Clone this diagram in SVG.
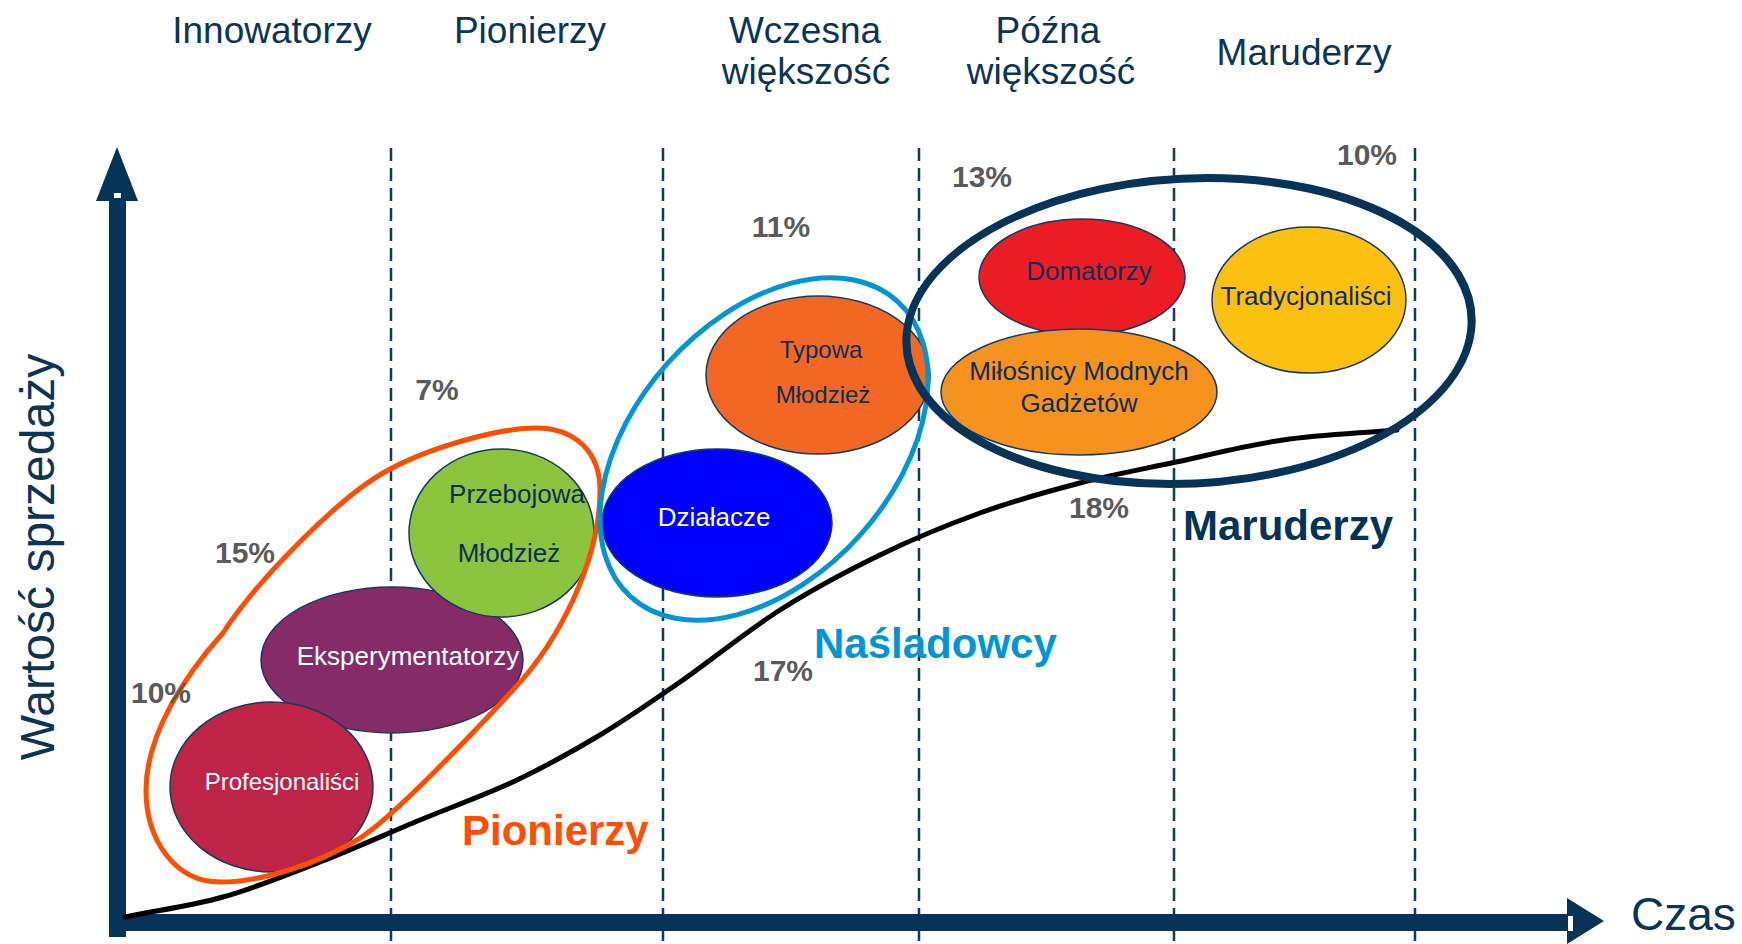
<svg xmlns="http://www.w3.org/2000/svg" width="1742" height="944" viewBox="0 0 1742 944">
<style>
text{font-family:"Liberation Sans",Arial,sans-serif}
.hdr{font-size:37px;fill:#0B3457;text-anchor:middle}
.pct{font-size:30px;font-weight:bold;fill:#5A5A5A;text-anchor:middle}
.big{font-size:42px;font-weight:bold}
.lbl{font-size:26px;text-anchor:middle}
.wht{fill:#FFFFFF}
.nav{fill:#0D2F55}
.node{stroke:#163A5F;stroke-width:1.5}
.dash{stroke:#123A5E;stroke-width:2.5;stroke-dasharray:13 7;fill:none}
.axis{fill:#063459}
.grp{fill:none}
</style>
<g id="headers">
<text class="hdr" x="272" y="43">Innowatorzy</text>
<text class="hdr" x="530" y="43">Pionierzy</text>
<text class="hdr" x="805" y="43">Wczesna</text>
<text class="hdr" x="806" y="84">większość</text>
<text class="hdr" x="1048" y="43">Późna</text>
<text class="hdr" x="1051" y="84">większość</text>
<text class="hdr" x="1304" y="65">Maruderzy</text>
</g>
<g id="grid">
<line class="dash" x1="391" y1="148" x2="391" y2="944"/>
<line class="dash" x1="663" y1="148" x2="663" y2="944"/>
<line class="dash" x1="919" y1="148" x2="919" y2="944"/>
<line class="dash" x1="1174" y1="148" x2="1174" y2="944"/>
<line class="dash" x1="1415" y1="148" x2="1415" y2="944"/>
</g>
<g id="axes">
<rect class="axis" x="109" y="195" width="17" height="742"/>
<polygon class="axis" points="117,147 138,201 96,201"/>
<rect x="114" y="193" width="7" height="5" fill="#FFFFFF"/>
<rect class="axis" x="109" y="914" width="1462" height="17"/>
<polygon class="axis" points="1567,898 1604,921 1567,944"/>
<rect x="1568" y="916" width="5" height="15" fill="#FFFFFF"/>
<text x="1631" y="930" style="font-size:46px;fill:#0B3457">Czas</text>
<text transform="translate(54,557) rotate(-90)" style="font-size:48px;fill:#0B3457;text-anchor:middle">Wartość sprzedaży</text>
</g>
<g id="connectors">
<path d="M125,917 C157.7,910.3 190.5,906.2 223,897 C255.5,887.8 287.2,874.8 320,862 C352.8,849.2 387.5,833.5 420,820 C452.5,806.5 485,795.2 515,781 C545,766.8 572.5,751.5 600,735 C627.5,718.5 650,702.8 680,682 C710,661.2 746.7,631.2 780,610 C813.3,588.8 846.7,571.2 880,555 C913.3,538.8 946.7,525 980,513 C1013.3,501 1047.3,491.5 1080,483 C1112.7,474.5 1142.2,469.2 1176,462 C1209.8,454.8 1246.2,445.3 1283,440 C1319.8,434.7 1359,433.3 1397,430" fill="none" stroke="#000000" stroke-width="5" stroke-linecap="round"/>
</g>
<g id="node-eksperymentatorzy">
<ellipse class="node" cx="392" cy="660" rx="131" ry="73" fill="#842B68"/>
<text class="lbl wht" x="408" y="665">Eksperymentatorzy</text>
</g>
<g id="node-przebojowa">
<ellipse class="node" cx="501.5" cy="533" rx="92.5" ry="84" fill="#8BC43F"/>
<text class="lbl nav" x="517" y="503">Przebojowa</text>
<text class="lbl nav" x="509" y="562">Młodzież</text>
</g>
<g id="node-profesjonalisci">
<ellipse class="node" cx="271.5" cy="787" rx="101.5" ry="85" fill="#BE2447"/>
<text class="lbl wht" x="282" y="790" style="font-size:24px">Profesjonaliści</text>
</g>
<g id="node-dzialacze">
<ellipse class="node" cx="717" cy="523" rx="115" ry="74" fill="#0000FF"/>
<text class="lbl wht" x="714" y="526">Działacze</text>
</g>
<g id="node-typowa">
<ellipse class="node" cx="818" cy="375" rx="112" ry="79" fill="#F26724"/>
<text class="lbl nav" x="821" y="358" style="font-size:24px">Typowa</text>
<text class="lbl nav" x="823" y="403" style="font-size:24px">Młodzież</text>
</g>
<g id="node-domatorzy">
<ellipse class="node" cx="1082" cy="277" rx="103" ry="58" fill="#EC1C24"/>
<text class="lbl nav" x="1089" y="280">Domatorzy</text>
</g>
<g id="node-milosnicy">
<ellipse class="node" cx="1079" cy="392" rx="138" ry="63" fill="#F6921E"/>
<text class="lbl nav" x="1079" y="380">Miłośnicy Modnych</text>
<text class="lbl nav" x="1079" y="412">Gadżetów</text>
</g>
<g id="node-tradycjonalisci">
<ellipse class="node" cx="1309" cy="300" rx="97" ry="73" fill="#FCC010"/>
<text class="lbl nav" x="1306" y="305">Tradycjonaliści</text>
</g>
<g id="group-pionierzy">
<path class="grp" d="M536,428 C575,428 600,452 600,490 C600,560 560,640 513,690 C473,733 391,820 357,840 C320,862 265,882 220,882 C175,882 146,840 146,790 C146,735 185,675 223,633 C258,579 338,499 383,473 C428,447 500,428 536,428 Z" stroke="#FF4E00" stroke-width="5"/>
<text class="big" x="462" y="845" fill="#FF4E00">Pionierzy</text>
</g>
<g id="group-nasladowcy">
<ellipse class="grp" cx="0" cy="0" rx="199" ry="129" transform="translate(764,449) rotate(-48)" stroke="#0096D6" stroke-width="5"/>
<text class="big" x="814" y="658" fill="#0096D6">Naśladowcy</text>
</g>
<g id="group-maruderzy">
<ellipse class="grp" cx="0" cy="0" rx="282" ry="153" transform="translate(1189,331) skewX(-7)" stroke="#063459" stroke-width="8"/>
<text class="big" x="1183" y="540" fill="#063459">Maruderzy</text>
</g>
<g id="percents">
<text class="pct" x="161" y="703">10%</text>
<text class="pct" x="245" y="563">15%</text>
<text class="pct" x="437" y="400">7%</text>
<text class="pct" x="781" y="237">11%</text>
<text class="pct" x="783" y="681">17%</text>
<text class="pct" x="982" y="187">13%</text>
<text class="pct" x="1099" y="518">18%</text>
<text class="pct" x="1367" y="165">10%</text>
</g>
</svg>
